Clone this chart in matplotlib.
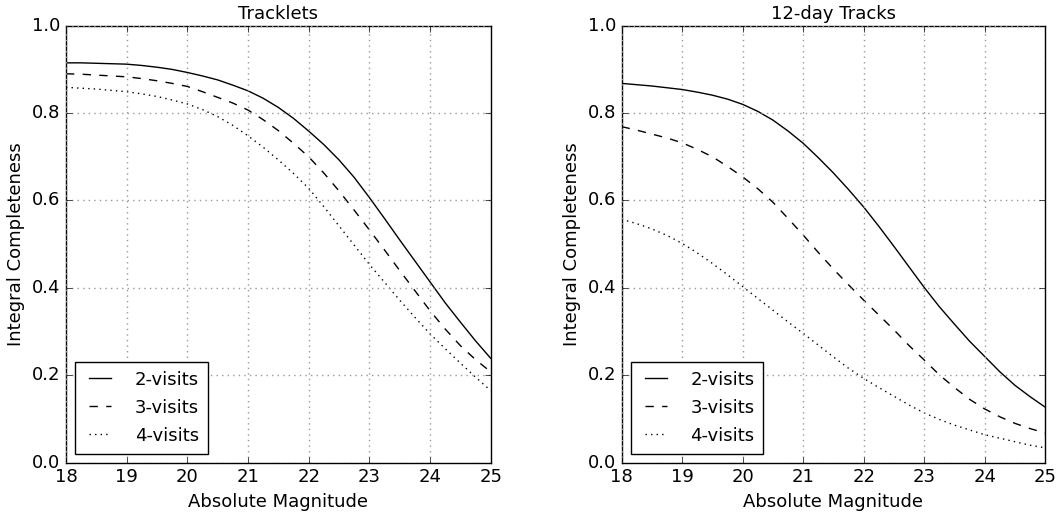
import matplotlib
matplotlib.use("Agg")
import matplotlib.pyplot as plt

plt.style.use("classic")
plt.rcParams["font.family"] = ["DejaVu Sans"]

magnitude = [18.0, 18.25, 18.5, 18.75, 19.0, 19.25, 19.5, 19.75, 20.0, 20.25, 20.5, 20.75,
             21.0, 21.25, 21.5, 21.75, 22.0, 22.25, 22.5, 22.75, 23.0, 23.25, 23.5, 23.75,
             24.0, 24.25, 24.5, 24.75, 25.0]

# Tracklets completeness
tracklets_2 = [0.915, 0.915, 0.914, 0.913, 0.912, 0.909, 0.905, 0.900, 0.893, 0.885, 0.876, 0.864,
               0.851, 0.834, 0.813, 0.788, 0.759, 0.728, 0.693, 0.653, 0.607, 0.559, 0.510, 0.462,
               0.414, 0.366, 0.322, 0.279, 0.239]
tracklets_3 = [0.890, 0.889, 0.887, 0.885, 0.883, 0.879, 0.874, 0.868, 0.861, 0.849, 0.836, 0.823,
               0.807, 0.785, 0.760, 0.731, 0.700, 0.663, 0.622, 0.578, 0.533, 0.487, 0.440, 0.394,
               0.348, 0.306, 0.268, 0.236, 0.208]
tracklets_4 = [0.859, 0.857, 0.855, 0.852, 0.849, 0.844, 0.838, 0.830, 0.821, 0.808, 0.792, 0.772,
               0.748, 0.722, 0.693, 0.662, 0.628, 0.586, 0.542, 0.498, 0.454, 0.413, 0.372, 0.333,
               0.295, 0.261, 0.228, 0.196, 0.165]

# 12-day tracks completeness
tracks_2 = [0.868, 0.865, 0.862, 0.858, 0.854, 0.848, 0.841, 0.832, 0.820, 0.804, 0.784, 0.759,
            0.731, 0.698, 0.663, 0.625, 0.585, 0.541, 0.495, 0.448, 0.401, 0.357, 0.317, 0.278,
            0.243, 0.208, 0.177, 0.151, 0.127]
tracks_3 = [0.769, 0.761, 0.752, 0.743, 0.732, 0.717, 0.700, 0.678, 0.654, 0.627, 0.596, 0.559,
            0.521, 0.481, 0.443, 0.407, 0.372, 0.338, 0.304, 0.268, 0.235, 0.201, 0.172, 0.145,
            0.123, 0.105, 0.090, 0.078, 0.068]
tracks_4 = [0.557, 0.547, 0.535, 0.520, 0.502, 0.480, 0.456, 0.430, 0.403, 0.376, 0.349, 0.322,
            0.296, 0.269, 0.242, 0.216, 0.193, 0.172, 0.152, 0.132, 0.114, 0.099, 0.086, 0.075,
            0.064, 0.056, 0.048, 0.040, 0.034]

labels = ["2-visits", "3-visits", "4-visits"]
styles = ["-", "--", ":"]
titles = ["Tracklets", "12-day Tracks"]
xticks = [18, 19, 20, 21, 22, 23, 24, 25]
yticks = [0.0, 0.2, 0.4, 0.6, 0.8, 1.0]

fig = plt.figure(figsize=(10.59, 5.12), dpi=100, facecolor="white")
ax1 = fig.add_axes([0.0623, 0.0963, 0.401, 0.8535])
ax2 = fig.add_axes([0.587, 0.0963, 0.400, 0.8535])

for ax, title, series in [
    (ax1, titles[0], [tracklets_2, tracklets_3, tracklets_4]),
    (ax2, titles[1], [tracks_2, tracks_3, tracks_4]),
]:
    for vals, ls, lab in zip(series, styles, labels):
        ax.plot(magnitude, vals, color="black", linestyle=ls, linewidth=1.0, label=lab)
    ax.set_xlim(18, 25)
    ax.set_ylim(0, 1)
    ax.set_xticks(xticks)
    ax.set_yticks(yticks)
    ax.grid(True, color="#999999", linestyle=":", linewidth=1.0)
    ax.tick_params(labelsize=13)
    ax.set_title(title, fontsize=13)
    ax.set_xlabel("Absolute Magnitude", fontsize=13)
    ax.set_ylabel("Integral Completeness", fontsize=13)
    leg = ax.legend(loc="lower left", fontsize=13, fancybox=False, handlelength=1.8,
                    handletextpad=1.0, borderaxespad=0.5, borderpad=0.5, labelspacing=0.55)
    leg.get_frame().set_edgecolor("black")

fig.savefig("out.png", dpi=100, facecolor="white")
